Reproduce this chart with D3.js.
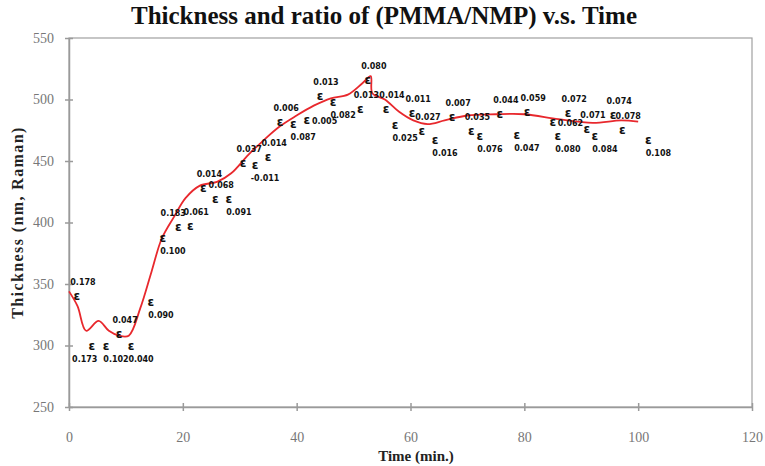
<!DOCTYPE html>
<html>
<head>
<meta charset="utf-8">
<script src="https://cdn.jsdelivr.net/npm/d3@7"></script>
<style>
  html, body { margin: 0; padding: 0; background: #fff; }
  svg { display: block; }
</style>
</head>
<body>
<svg id="chart" width="765" height="466"></svg>
<script>
// Smoothed thickness trend (min, nm)
const trendTime  = [0, 1.5, 3, 5.2, 7, 8.8, 10.5, 12.5, 14.5, 16.3, 18.5, 20.5, 23, 26, 28.5, 31.5, 34, 37, 40, 43, 46, 49, 51.5, 53, 53.3, 55.5, 58, 60.5, 63, 66, 70, 75, 80, 86, 92, 97, 100];
const trendThick = [344, 332, 312, 320, 312, 308, 308, 330, 360, 387, 405, 420, 430, 433, 440, 455, 466, 478, 487, 495, 501, 504, 513, 519, 505, 500, 490, 483, 480, 483, 487, 488, 488, 484, 481, 483, 482];

// Individual measurements and their PMMA/NMP ratio
const pointTime  = [1.4, 4.0, 6.5, 8.8, 10.9, 14.4, 16.5, 19.2, 21.3, 23.6, 25.7, 28.1, 30.6, 32.7, 35.0, 37.1, 39.4, 41.8, 44.1, 46.4, 51.2, 52.5, 55.7, 57.3, 60.3, 62.0, 64.3, 67.3, 70.7, 72.2, 75.7, 78.7, 80.5, 85.9, 85.0, 87.7, 91.0, 92.4, 95.6, 97.2, 101.8];
const pointThick = [340, 300, 300, 309, 300, 335, 387, 396, 397, 428, 419, 419, 448, 447, 453, 482, 480, 483, 503, 498, 492, 516, 492, 479, 489, 474, 467, 486, 474, 470, 488, 471, 490, 470, 482, 489, 476, 470, 487, 475, 467];
const pointRatio = ["0.178", "0.173", "0.102", "0.047", "0.040", "0.090", "0.100", "0.183", "0.061", "0.014", "0.068", "0.091", "0.037", "-0.011", "0.014", "0.006", "0.087", "0.005", "0.013", "0.082", "0.013", "0.080", "0.014", "0.025", "0.011", "0.027", "0.016", "0.007", "0.035", "0.076", "0.044", "0.047", "0.059", "0.080", "0.062", "0.072", "0.071", "0.084", "0.074", "0.078", "0.108"];

const xTicks = [0, 20, 40, 60, 80, 100, 120];
const yTicks = [250, 300, 350, 400, 450, 500, 550];

// where each ratio label sits relative to its marker:
// a = above, al = above-left, b = below, bl = below-left, r = right
const labelSide = ["a","bl","b","a","b","b","b","al","a","a","a","b","a","b","a","a","b","r","a","b","a","a","a","b","a","a","b","a","a","b","a","b","a","b","r","a","a","b","a","a","b"];
const labelDx = { a: 6, al: -5, b: 10, bl: -7, r: 5 };
const labelDy = { a: -11, al: -11, b: 16, bl: 16, r: 4 };

const svg = d3.select("#chart");
const serif = "'Liberation Serif', 'Times New Roman', serif";

const x = d3.scaleLinear().domain([0, 120]).range([69, 752]);
const y = d3.scaleLinear().domain([250, 550]).range([407, 38]);

// plot frame
svg.append("rect")
  .attr("x", x(0)).attr("y", y(550))
  .attr("width", x(120) - x(0)).attr("height", y(250) - y(550))
  .attr("fill", "#fff").attr("stroke", "#a0a0a0").attr("stroke-width", 1.2);

// axes
const xAxis = svg.append("g")
  .attr("transform", `translate(0,${y(250)})`)
  .call(d3.axisBottom(x).tickValues(xTicks).tickSize(4).tickSizeOuter(0).tickPadding(21));
xAxis.select(".domain").attr("stroke", "#9a9a9a").attr("stroke-width", 1.5);
xAxis.selectAll(".tick line").attr("stroke", "#9a9a9a").attr("stroke-width", 1.5).attr("y1", -4).attr("y2", 4);
xAxis.selectAll(".tick text")
  .attr("font-family", serif).attr("font-size", 14).attr("fill", "#777");

const yAxis = svg.append("g")
  .attr("transform", `translate(${x(0)},0)`)
  .call(d3.axisLeft(y).tickValues(yTicks).tickSize(4).tickSizeOuter(0).tickPadding(11));
yAxis.select(".domain").attr("stroke", "#9a9a9a").attr("stroke-width", 1.5);
yAxis.selectAll(".tick line").attr("stroke", "#9a9a9a").attr("stroke-width", 1.5).attr("x1", -4).attr("x2", 4);
yAxis.selectAll(".tick text")
  .attr("font-family", serif).attr("font-size", 14).attr("fill", "#777");

// titles
svg.append("text")
  .attr("x", 384).attr("y", 24)
  .attr("text-anchor", "middle")
  .attr("font-family", serif).attr("font-weight", "bold").attr("font-size", 25)
  .attr("fill", "#111")
  .text("Thickness and ratio of (PMMA/NMP) v.s. Time");

svg.append("text")
  .attr("x", 416).attr("y", 461)
  .attr("text-anchor", "middle")
  .attr("font-family", serif).attr("font-weight", "bold").attr("font-size", 15)
  .attr("fill", "#222")
  .text("Time (min.)");

svg.append("text")
  .attr("transform", `translate(23,${(y(250) + y(550)) / 2}) rotate(-90)`)
  .attr("text-anchor", "middle")
  .attr("font-family", serif).attr("font-weight", "bold").attr("font-size", 16)
  .attr("letter-spacing", 1.4)
  .attr("fill", "#222")
  .text("Thickness (nm, Raman)");

// trend line
const trend = trendTime.map((t, i) => [t, trendThick[i]]);
svg.append("path")
  .datum(trend)
  .attr("fill", "none")
  .attr("stroke", "#e8282d")
  .attr("stroke-width", 1.8)
  .attr("d", d3.line().x(d => x(d[0])).y(d => y(d[1])).curve(d3.curveCatmullRom.alpha(0.5)));

// measurement markers
const pts = pointTime.map((t, i) => ({ t, v: pointThick[i], r: pointRatio[i], s: labelSide[i] }));
const g = svg.append("g");
g.selectAll("text.mk")
  .data(pts).join("text")
  .attr("class", "mk")
  .attr("x", d => x(d.t)).attr("y", d => y(d.v) + 4)
  .attr("text-anchor", "middle")
  .attr("font-family", "'DejaVu Sans', sans-serif").attr("font-weight", "bold").attr("font-size", 12)
  .attr("fill", "#111")
  .text("ε");

// ratio labels
g.selectAll("text.lb")
  .data(pts).join("text")
  .attr("class", "lb")
  .attr("x", d => x(d.t) + labelDx[d.s])
  .attr("y", d => y(d.v) + labelDy[d.s])
  .attr("text-anchor", d => d.s === "r" ? "start" : "middle")
  .attr("font-family", "'DejaVu Sans', sans-serif").attr("font-weight", "bold").attr("font-size", 8)
  .attr("fill", "#111")
  .text(d => d.r);
</script>
</body>
</html>
